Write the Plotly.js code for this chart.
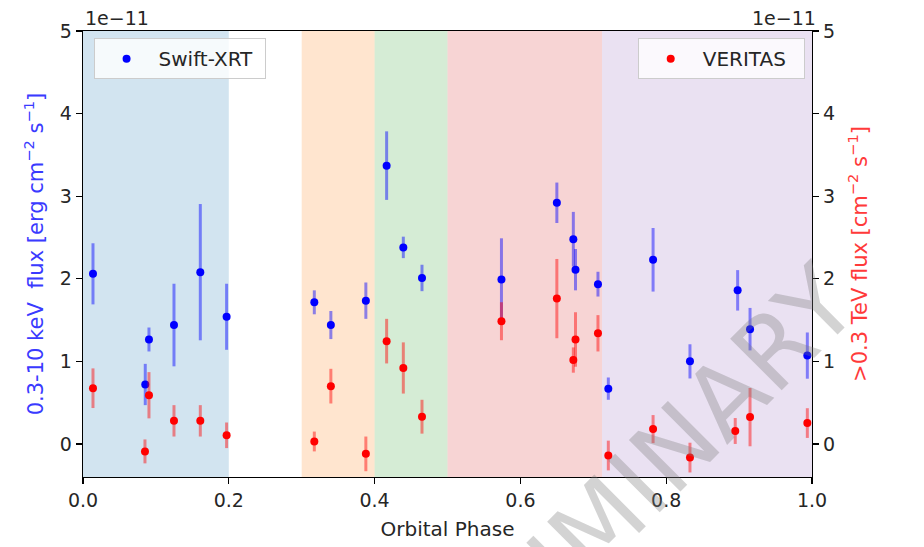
<!DOCTYPE html>
<html>
<head>
<meta charset="utf-8">
<script src="https://cdn.plot.ly/plotly-3.0.1.min.js"></script>
<style>html,body{margin:0;padding:0;background:#fff;}#chart{width:924px;height:547px;}</style>
</head>
<body>
<div id="chart"></div>
<script>
// Flux values are in units of 1e-11
const xrtPhase = [0.0137, 0.0854, 0.0905, 0.1248, 0.1609, 0.1970, 0.3173, 0.3400, 0.3880, 0.4165, 0.4394, 0.4650, 0.5740, 0.6500, 0.6726, 0.6756, 0.7064, 0.7206, 0.7820, 0.8326, 0.8980, 0.9150, 0.9936];
const xrtFlux  = [2.06, 0.72, 1.265, 1.44, 2.08, 1.54, 1.715, 1.44, 1.735, 3.37, 2.38, 2.01, 1.99, 2.92, 2.48, 2.11, 1.935, 0.67, 2.23, 1.00, 1.86, 1.39, 1.07];
const xrtErr   = [0.37, 0.25, 0.145, 0.50, 0.825, 0.40, 0.145, 0.17, 0.22, 0.415, 0.13, 0.16, 0.50, 0.245, 0.33, 0.25, 0.15, 0.135, 0.385, 0.207, 0.245, 0.257, 0.28];

const veritasPhase = [0.0137, 0.0850, 0.0905, 0.1248, 0.1609, 0.1970, 0.3173, 0.3400, 0.3880, 0.4165, 0.4394, 0.4650, 0.5740, 0.6500, 0.6726, 0.6756, 0.7064, 0.7206, 0.7820, 0.8326, 0.8947, 0.9150, 0.9936];
const veritasFlux  = [0.675, -0.09, 0.59, 0.28, 0.28, 0.105, 0.03, 0.70, -0.12, 1.245, 0.92, 0.33, 1.486, 1.76, 1.016, 1.265, 1.34, -0.14, 0.18, -0.165, 0.157, 0.325, 0.253];
const veritasErr   = [0.24, 0.145, 0.28, 0.19, 0.19, 0.155, 0.12, 0.21, 0.21, 0.27, 0.31, 0.205, 0.23, 0.48, 0.153, 0.33, 0.22, 0.18, 0.17, 0.18, 0.157, 0.353, 0.18];

const bandStart = [0.0, 0.3, 0.4, 0.5, 0.712];
const bandEnd   = [0.2, 0.4, 0.5, 0.712, 1.0];
const bandColor = ['rgba(31,119,180,0.2)', 'rgba(255,127,14,0.2)', 'rgba(44,160,44,0.2)', 'rgba(214,39,40,0.2)', 'rgba(148,103,189,0.2)'];

const xTicks = [0.0, 0.2, 0.4, 0.6, 0.8, 1.0];
const xTickText = ['0.0', '0.2', '0.4', '0.6', '0.8', '1.0'];
const yTicks = [0, 1, 2, 3, 4, 5];

const FONT = 'DejaVu Sans, sans-serif';
const TXT = '#262626';

const traces = [
  {
    type: 'scatter', mode: 'markers', name: 'Swift-XRT\u00a0',
    x: xrtPhase, y: xrtFlux,
    error_y: {type: 'data', array: xrtErr, visible: true, color: 'rgba(0,0,255,0.45)', thickness: 3, width: 0},
    marker: {color: 'blue', size: 8},
    xaxis: 'x', yaxis: 'y', legend: 'legend'
  },
  {
    type: 'scatter', mode: 'markers', name: 'VERITAS\u00a0\u00a0',
    x: veritasPhase, y: veritasFlux,
    error_y: {type: 'data', array: veritasErr, visible: true, color: 'rgba(255,0,0,0.45)', thickness: 3, width: 0},
    marker: {color: 'red', size: 8},
    xaxis: 'x', yaxis: 'y2', legend: 'legend2'
  }
];

const shapes = bandStart.map((s, i) => ({
  type: 'rect', xref: 'x', yref: 'paper', x0: s, x1: bandEnd[i], y0: 0, y1: 1,
  fillcolor: bandColor[i], line: {width: 0}, layer: 'below'
}));

const axisCommon = {
  showgrid: false, zeroline: false, showline: true, linecolor: '#000', linewidth: 1.3,
  ticks: 'outside', ticklen: 6, tickwidth: 1.3, tickcolor: '#000',
  tickfont: {family: FONT, size: 19, color: TXT}
};

const legendCommon = {
  bgcolor: 'rgba(255,255,255,0.8)', bordercolor: '#cccccc', borderwidth: 1,
  font: {family: FONT, size: 20, color: TXT}, itemwidth: 54,
  yref: 'paper', y: 0.984, yanchor: 'top', xref: 'paper'
};

const layout = {
  width: 924, height: 547,
  margin: {l: 83, r: 112, t: 31, b: 70},
  paper_bgcolor: '#fff', plot_bgcolor: '#fff',
  showlegend: true,
  xaxis: Object.assign({}, axisCommon, {
    range: [0, 1], tickvals: xTicks, ticktext: xTickText, mirror: true,
    title: {text: 'Orbital Phase', font: {family: FONT, size: 20, color: TXT}, standoff: 12}
  }),
  yaxis: Object.assign({}, axisCommon, {
    range: [-0.4, 5], tickvals: yTicks,
    title: {text: '0.3-10 keV  flux [erg cm<sup>−2</sup> s<sup>−1</sup>]', font: {family: FONT, size: 21, color: '#3a3aff'}, standoff: 10}
  }),
  yaxis2: Object.assign({}, axisCommon, {
    range: [-0.4, 5], tickvals: yTicks, overlaying: 'y', side: 'right',
    title: {text: '>0.3 TeV flux [cm<sup>−2</sup> s<sup>−1</sup>]', font: {family: FONT, size: 21, color: '#ff3a3a'}, standoff: 18}
  }),
  legend: Object.assign({}, legendCommon, {x: 0.0145, xanchor: 'left'}),
  legend2: Object.assign({}, legendCommon, {x: 0.99, xanchor: 'right'}),
  shapes: shapes,
  annotations: [
    {xref: 'paper', yref: 'paper', x: 0, y: 1, xanchor: 'left', yanchor: 'bottom', yshift: 0, showarrow: false,
     text: '1e−11', font: {family: FONT, size: 19, color: TXT}},
    {xref: 'paper', yref: 'paper', x: 1.008, y: 1, xanchor: 'right', yanchor: 'bottom', yshift: 0, showarrow: false,
     text: '1e−11', font: {family: FONT, size: 19, color: TXT}},
    {xref: 'paper', yref: 'paper', x: 0.716, y: -0.094, xanchor: 'center', yanchor: 'middle', showarrow: false,
     textangle: -45, text: 'PRELIMINARY', font: {family: FONT, size: 100, color: 'rgba(120,120,120,0.33)'}}
  ]
};

Plotly.newPlot('chart', traces, layout, {displayModeBar: false, staticPlot: true});
</script>
</body>
</html>
